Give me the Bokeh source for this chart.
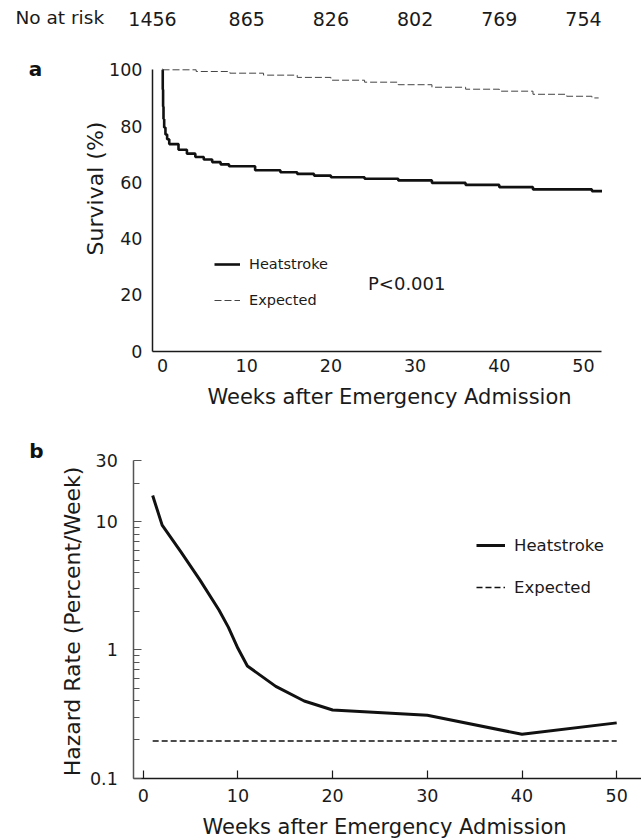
import math
from bokeh.plotting import figure
from bokeh.layouts import column
from bokeh.models import (Range1d, FixedTicker, Label, Legend, LegendItem,
                          CustomJSTickFormatter, LinearAxis, LogAxis)
from bokeh.embed import file_html
from bokeh.resources import INLINE

FONT = "DejaVu Sans"

# ---------------- data ----------------
at_risk_weeks = [0, 10, 20, 30, 40, 50]
at_risk_counts = ["1456", "865", "826", "802", "769", "754"]

# Panel a: Kaplan-Meier survival (%)
hs_weeks = [0, 0.03, 0.07, 0.12, 0.2, 0.35, 0.55, 0.8, 1.9, 2.9, 3.9, 4.9, 5.9,
            6.9, 7.9, 11, 14, 16, 18, 20, 24, 28, 32, 36, 40, 44, 51, 52.2]
hs_surv = [100, 93, 87, 82.5, 79.5, 77, 75.3, 73.6, 71.6, 70.2, 69.0, 68.1, 67.2,
           66.4, 65.7, 64.3, 63.6, 63.0, 62.4, 61.8, 61.3, 60.7, 59.8, 59.1, 58.3,
           57.5, 56.9, 56.9]
ex_weeks = [0, 4, 8, 12, 16, 20, 24, 28, 32, 36, 40, 44, 48, 51, 51.8]
ex_surv = [100, 99.4, 98.8, 98.1, 97.3, 96.3, 95.6, 94.7, 93.8, 93.1, 92.4, 91.3,
           90.6, 90.0, 90.0]

# Panel b: hazard rate (percent/week)
hz_weeks = [1, 2, 4, 6, 8, 9, 10, 11, 14, 17, 20, 30, 40, 50]
hz_rate = [16, 9.4, 5.8, 3.5, 2.05, 1.5, 1.03, 0.75, 0.52, 0.40, 0.34, 0.31, 0.22, 0.27]
exr_weeks = [1, 50]
exr_rate = [0.195, 0.195]

a_yticks = [0, 20, 40, 60, 80, 100]
a_xticks = [0, 10, 20, 30, 40, 50]
b_xticks = [0, 10, 20, 30, 40, 50]
b_yticks = [0.1, 1, 10, 30]
b_yminor = [0.2, 0.3, 0.4, 0.5, 0.6, 0.7, 0.8, 0.9, 2, 3, 4, 5, 6, 7, 8, 9, 20]

W = 641

# ---------------- panel a (canvas = page rows 0..420) ----------------
A_H = 420
A_X0, A_KX = 162.0, 8.42          # pixel of week 0, pixels per week
A_Y0, A_Y100 = 350.7, 69.3        # pixel of 0 % and 100 %
A_KY = (A_Y0 - A_Y100) / 100.0


def a_x(px):
    return (px - A_X0) / A_KX


def a_y(py):
    return (A_Y0 - py) / A_KY


pa = figure(width=W, height=A_H, x_range=Range1d(a_x(0), a_x(W)),
            y_range=Range1d(a_y(A_H), a_y(0)),
            x_axis_location=None, y_axis_location=None,
            output_backend="svg", toolbar_location=None,
            min_border=0, min_border_left=0, min_border_right=0,
            min_border_top=0, min_border_bottom=0)
pa.outline_line_color = None
pa.grid.visible = False
pa.background_fill_color = "white"
pa.border_fill_color = "white"

xa_a = LinearAxis(fixed_location=0, bounds=(a_x(152), a_x(601)),
                  ticker=FixedTicker(ticks=a_xticks))
ya_a = LinearAxis(fixed_location=a_x(152), bounds=(0, 100),
                  ticker=FixedTicker(ticks=a_yticks))
for ax in (xa_a, ya_a):
    ax.major_tick_line_color = None
    ax.minor_tick_line_color = None
    ax.major_tick_out = 0
    ax.major_tick_in = 0
    ax.axis_line_color = "#1a1a1a"
    ax.axis_line_width = 1.5
    ax.major_label_text_font = FONT
    ax.major_label_text_font_size = "17.5px"
    ax.major_label_text_color = "#1a1a1a"
xa_a.major_label_standoff = 8
ya_a.major_label_standoff = 10
pa.add_layout(xa_a, "below")
pa.add_layout(ya_a, "left")

hs = pa.step(hs_weeks, hs_surv, mode="after", line_width=2.6, line_color="#111111")
ex = pa.step(ex_weeks, ex_surv, mode="after", line_width=1, line_color="#444444",
             line_dash="7 3")

leg_a = Legend(items=[LegendItem(label="Heatstroke", renderers=[hs]),
                      LegendItem(label="Expected", renderers=[ex])],
               location=(214, 110), border_line_color=None, background_fill_alpha=0,
               padding=0, margin=0, spacing=16, glyph_width=26, glyph_height=20,
               label_height=20, label_standoff=9, label_text_font=FONT,
               label_text_font_size="14.5px", label_text_color="#1a1a1a")
pa.add_layout(leg_a)

pa.add_layout(Label(x=a_x(367.5), y=a_y(283.3), text="P<0.001", text_font=FONT,
                    text_font_size="18px", text_align="left", text_baseline="middle",
                    text_color="#1a1a1a"))
pa.add_layout(Label(x=a_x(15), y=a_y(16.5), text="No at risk", text_font=FONT,
                    text_font_size="18.5px", text_align="left", text_baseline="middle",
                    text_color="#1a1a1a"))
for i, (wk, n) in enumerate(zip(at_risk_weeks, at_risk_counts)):
    pa.add_layout(Label(x=wk, y=a_y(18.3), text=n, text_font=FONT,
                        text_font_size="19px", text_align="center",
                        x_offset=(-10 if i == 0 else 0),
                        text_baseline="middle", text_color="#1a1a1a"))
pa.add_layout(Label(x=a_x(35), y=a_y(68), text="a", text_font=FONT,
                    text_font_style="bold", text_font_size="20px", text_align="center",
                    text_baseline="middle", text_color="#111111"))
pa.add_layout(Label(x=a_x(95), y=a_y(188), text="Survival (%)", text_font=FONT,
                    text_font_size="22px", text_align="center", text_baseline="middle",
                    angle=math.pi / 2, text_color="#1a1a1a"))
pa.add_layout(Label(x=a_x(389), y=a_y(396), text="Weeks after Emergency Admission",
                    text_font=FONT, text_font_size="21px", text_align="center",
                    text_baseline="middle", text_color="#1a1a1a"))

# ---------------- panel b (canvas = page rows 420..839) ----------------
B_TOP, B_H = 420, 419
B_X0, B_KX = 142.7, 9.47
B_Y30, B_Y01 = 460.0, 777.7
B_KD = (B_Y01 - B_Y30) / (math.log10(30) - math.log10(0.1))   # px per decade


def b_x(px):
    return (px - B_X0) / B_KX


def b_y(py):
    return 10 ** (math.log10(30) - (py - B_Y30) / B_KD)


pb = figure(width=W, height=B_H, x_range=Range1d(b_x(0), b_x(W)),
            y_range=Range1d(b_y(B_TOP + B_H), b_y(B_TOP)),
            y_axis_type="log", x_axis_location=None, y_axis_location=None,
            output_backend="svg", toolbar_location=None,
            min_border=0, min_border_left=0, min_border_right=0,
            min_border_top=0, min_border_bottom=0)
pb.outline_line_color = None
pb.grid.visible = False
pb.background_fill_color = "white"
pb.border_fill_color = "white"

xa = LinearAxis(fixed_location=0.1, bounds=(b_x(133.3), b_x(W)),
                ticker=FixedTicker(ticks=b_xticks))
xa.major_tick_in = 8
xa.major_tick_out = 0
xa.minor_tick_line_color = None
xa.axis_line_color = "#1a1a1a"
xa.axis_line_width = 1.5
xa.major_tick_line_color = "#1a1a1a"
xa.major_tick_line_width = 1.2
xa.major_label_standoff = 11

ya = LogAxis(fixed_location=b_x(133.3), bounds=(0.1, 30),
             ticker=FixedTicker(ticks=b_yticks, minor_ticks=b_yminor))
ya.formatter = CustomJSTickFormatter(code="return String(tick);")
ya.major_tick_in = 8
ya.major_tick_out = 0
ya.minor_tick_in = 6
ya.minor_tick_out = 0
ya.axis_line_color = "#555555"
ya.axis_line_width = 1.5
ya.major_tick_line_color = "#555555"
ya.minor_tick_line_color = "#555555"
ya.major_tick_line_width = 1.2
ya.minor_tick_line_width = 1.2
ya.major_label_standoff = 16
for ax in (xa, ya):
    ax.major_label_text_font = FONT
    ax.major_label_text_font_size = "17.5px"
    ax.major_label_text_color = "#1a1a1a"
pb.add_layout(xa, "below")
pb.add_layout(ya, "left")

hz = pb.line(hz_weeks, hz_rate, line_width=3, line_color="#111111", line_join="round")
exr = pb.line(exr_weeks, exr_rate, line_width=1.6, line_color="#111111", line_dash="6 3")

leg_b = Legend(items=[LegendItem(label="Heatstroke", renderers=[hz]),
                      LegendItem(label="Expected", renderers=[exr])],
               location=(476, 242), border_line_color=None, background_fill_alpha=0,
               padding=0, margin=0, spacing=22, glyph_width=29, glyph_height=20,
               label_height=20, label_standoff=9, label_text_font=FONT,
               label_text_font_size="16.5px", label_text_color="#1a1a1a")
pb.add_layout(leg_b)

pb.add_layout(Label(x=b_x(36), y=b_y(450), text="b", text_font=FONT,
                    text_font_style="bold", text_font_size="20px", text_align="center",
                    text_baseline="middle", text_color="#111111"))
pb.add_layout(Label(x=b_x(72), y=b_y(621), text="Hazard Rate (Percent/Week)",
                    text_font=FONT, text_font_size="22px", text_align="center",
                    text_baseline="middle", angle=math.pi / 2, text_color="#1a1a1a"))
pb.add_layout(Label(x=b_x(384), y=b_y(826), text="Weeks after Emergency Admission",
                    text_font=FONT, text_font_size="21px", text_align="center",
                    text_baseline="middle", text_color="#1a1a1a"))

layout = column(pa, pb, spacing=0)
open("out.html", "w").write(file_html(layout, INLINE))
